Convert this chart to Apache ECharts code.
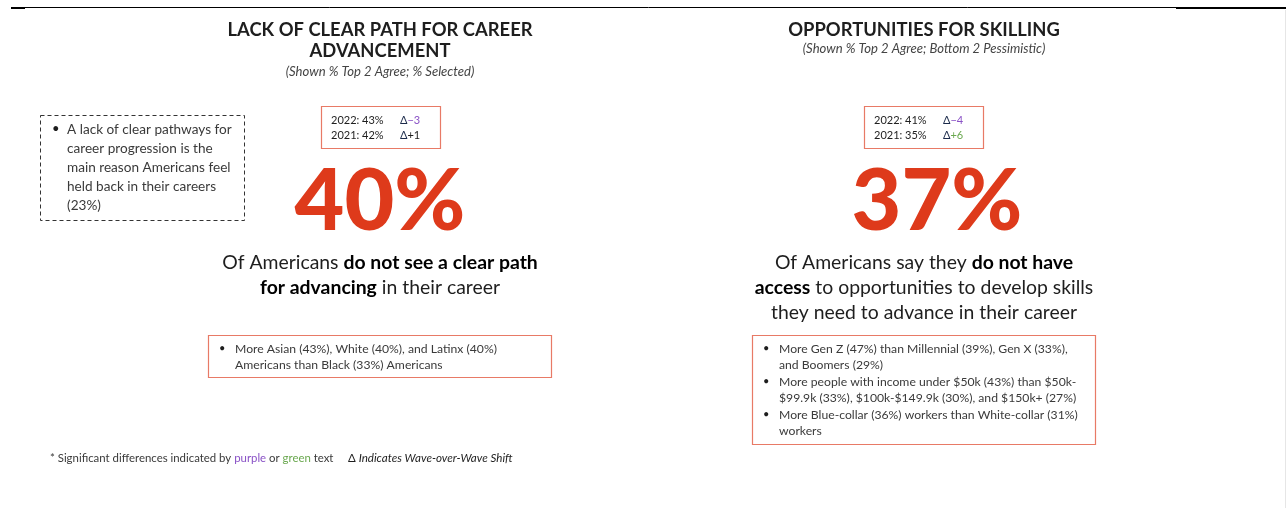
<!DOCTYPE html>
<html>
<head>
<meta charset="utf-8">
<script src="https://cdn.jsdelivr.net/npm/echarts@6/dist/echarts.min.js"></script>
<style>
  html, body { margin: 0; padding: 0; background: #fff; }
  #main { width: 1286px; height: 508px; }
</style>
</head>
<body>
<div id="main"></div>
<script>
// panel data
var panelTitles = [['LACK OF CLEAR PATH FOR CAREER', 'ADVANCEMENT'], ['OPPORTUNITIES FOR SKILLING']];
var panelSubtitles = ['(Shown % Top 2 Agree; % Selected)', '(Shown % Top 2 Agree; Bottom 2 Pessimistic)'];
var mainValues = [40, 37];
var waveYears = ['2022', '2021'];
var waveValues = [[43, 42], [41, 35]];
var waveDeltas = [[-3, 1], [-4, 6]];
var waveSig = [['purple', 'none'], ['purple', 'green']];
var statements = [
  ['Of Americans {b|do not see a clear path}', '{b|for advancing} in their career'],
  ['Of Americans say they {b|do not have}', '{b|access} to opportunities to develop skills', 'they need to advance in their career']
];
var bullets = [
  [['More Asian (43%), White (40%), and Latinx (40%)', 'Americans than Black (33%) Americans']],
  [['More Gen Z (47%) than Millennial (39%), Gen X (33%),', 'and Boomers (29%)'],
   ['More people with income under $50k (43%) than $50k-', '$99.9k (33%), $100k-$149.9k (30%), and $150k+ (27%)'],
   ['More Blue-collar (36%) workers than White-collar (31%)', 'workers']]
];
var sideNote = ['A lack of clear pathways for', 'career progression is the', 'main reason Americans feel', 'held back in their careers', '(23%)'];

var chart = echarts.init(document.getElementById('main'));

var FONT = 'Lato, "Noto Sans", sans-serif';
var RED = '#de3a1b';
var BORDER = '#e87a66';
var DARK = '#1e1e1e';
var GREY = '#3a3a3a';
var COLORS = { purple: '#8a52c6', green: '#6aa84f', none: '#1e1e1e' };

// layout per panel
var layout = [
  { cx: 380, titleY: [30, 51], subY: 72, box: [321, 106, 119, 42], bigCx: 380, stmtY: 263, bl: [208, 335, 343, 42] },
  { cx: 924, titleY: [30], subY: 49, box: [864, 106, 119, 42], bigCx: 937, stmtY: 263, bl: [752, 335, 343, 109] }
];

function txt(x, y, text, size, weight, color, align, extra) {
  var style = {
    text: text, fill: color,
    font: (extra && extra.italic ? 'italic ' : '') + weight + ' ' + size + 'px ' + FONT,
    textAlign: align || 'left', align: align || 'left',
    textVerticalAlign: 'middle', verticalAlign: 'middle'
  };
  if (extra && extra.rich) style.rich = extra.rich;
  return { type: 'text', x: x, y: y, style: style, silent: true };
}

var els = [];

// top rule
els.push({ type: 'line', shape: { x1: 11, y1: 7.5, x2: 1286, y2: 7.5 }, style: { stroke: '#000', lineWidth: 1 } });
els.push({ type: 'rect', shape: { x: 11, y: 7, width: 14, height: 2 }, style: { fill: '#000' } });
els.push({ type: 'rect', shape: { x: 1176, y: 7, width: 110, height: 2 }, style: { fill: '#000' } });

for (var p = 0; p < 2; p++) {
  var L = layout[p];
  panelTitles[p].forEach(function (t, i) {
    els.push(txt(L.cx, L.titleY[i], t, 18.4, 'bold', DARK, 'center'));
  });
  els.push(txt(L.cx, L.subY, panelSubtitles[p], 13.1, 'normal', '#444', 'center', { italic: true }));

  // wave box
  var b = L.box;
  els.push({ type: 'rect', shape: { x: b[0] + 0.5, y: b[1] + 0.5, width: b[2], height: b[3] }, style: { fill: 'none', stroke: BORDER, lineWidth: 1.2 } });
  for (var w = 0; w < 2; w++) {
    var yy = b[1] + 14 + w * 15;
    els.push(txt(b[0] + 10, yy, waveYears[w] + ': ' + waveValues[p][w] + '%', 11, 'normal', DARK, 'left'));
    var d = waveDeltas[p][w];
    var ds = (d > 0 ? '+' : '\u2212') + Math.abs(d);
    els.push(txt(b[0] + 79, yy, '{d|\u0394}{v|' + ds + '}', 11, 'normal', DARK, 'left', {
      rich: {
        d: { fill: '#1b2a4a', font: 'normal 11px ' + FONT },
        v: { fill: COLORS[waveSig[p][w]], font: 'normal 11px ' + FONT }
      }
    }));
  }

  // big number
  els.push(txt(L.bigCx, 202, mainValues[p] + '%', 86, '900', RED, 'center'));

  // statement
  statements[p].forEach(function (s, i) {
    els.push(txt(L.cx, L.stmtY + i * 25, s, 19.4, 'normal', DARK, 'center', {
      rich: { b: { font: 'bold 19.4px ' + FONT, fill: '#000' } }
    }));
  });

  // bullet box
  var bl = L.bl;
  els.push({ type: 'rect', shape: { x: bl[0] + 0.5, y: bl[1] + 0.5, width: bl[2], height: bl[3] }, style: { fill: 'none', stroke: BORDER, lineWidth: 1.2 } });
  var ly = bl[1] + 14;
  bullets[p].forEach(function (item) {
    els.push(txt(bl[0] + 11, ly - 1, '\u2022', 11, 'normal', DARK, 'left'));
    item.forEach(function (line) {
      els.push(txt(bl[0] + 27, ly, line, 12.2, 'normal', GREY, 'left'));
      ly += 16.5;
    });
  });
}

// dashed side note
els.push({ type: 'rect', shape: { x: 40.5, y: 115.5, width: 204, height: 105 }, style: { fill: 'none', stroke: '#333', lineWidth: 1, lineDash: [4, 3] } });
els.push(txt(52, 129, '\u2022', 13, 'normal', DARK, 'left'));
sideNote.forEach(function (line, i) {
  els.push(txt(67, 130 + i * 19, line, 13.6, 'normal', GREY, 'left'));
});

// footnote
els.push(txt(50, 458, '* Significant differences indicated by {p|purple} or {g|green} text', 11.4, 'normal', GREY, 'left', {
  rich: {
    p: { fill: COLORS.purple, font: 'normal 11.4px ' + FONT },
    g: { fill: COLORS.green, font: 'normal 11.4px ' + FONT }
  }
}));
els.push(txt(348, 458, '\u0394 {i|Indicates Wave-over-Wave Shift}', 11.4, 'normal', DARK, 'left', {
  rich: { i: { font: 'italic 11.6px ' + FONT, fill: DARK } }
}));

// faint right edge
els.push({ type: 'line', shape: { x1: 1285.5, y1: 10, x2: 1285.5, y2: 508 }, style: { stroke: '#e6e6e6', lineWidth: 1 } });

chart.setOption({
  backgroundColor: '#fff',
  animation: false,
  graphic: { elements: els }
});
</script>
</body>
</html>
